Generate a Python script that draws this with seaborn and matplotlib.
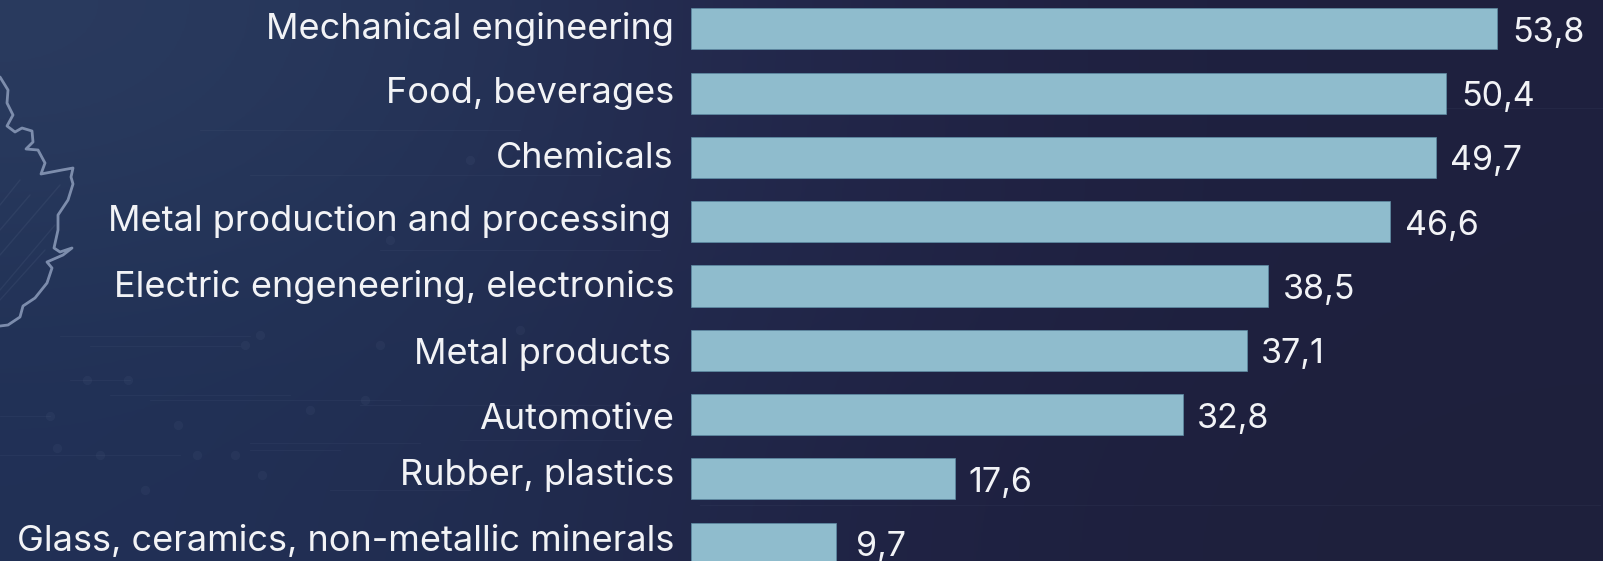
import numpy as np
import pandas as pd
import matplotlib
matplotlib.use("Agg")
import matplotlib.pyplot as plt
from matplotlib.lines import Line2D
import seaborn as sns

# --- data ---
sectors = [
    "Mechanical engineering",
    "Food, beverages",
    "Chemicals",
    "Metal production and processing",
    "Electric engeneering, electronics",
    "Metal products",
    "Automotive",
    "Rubber, plastics",
    "Glass, ceramics, non-metallic minerals",
]
shares = [53.8, 50.4, 49.7, 46.6, 38.5, 37.1, 32.8, 17.6, 9.7]

# --- layout, in reference pixels ---
W, H = 1603, 561
BAR_LEFT = 691
PX_PER_UNIT = 14.99
FIRST_CENTER = 28.8
PITCH = 64.3
label_drop = [10, 9.5, 10.5, 8.8, 11.5, 14, 14.2, 6.5, 7.5]
label_right = [674, 674, 674, 671, 674, 671, 674, 674, 674]
value_pad = [15, 15, 14, 15, 15, 14, 14, 14, 20]
VALUE_DROP = 13

BAR_COLOR = "#8fbccd"
TEXT_COLOR = "#f2f3f6"

df = pd.DataFrame({"sector": sectors, "share": shares})

sns.set_theme(style="white")
plt.rcParams["font.family"] = ["Inter", "DejaVu Sans"]

fig = plt.figure(figsize=(W / 100, H / 100), dpi=100)

# background wash, blue at upper left going to dark indigo on the right
bg = fig.add_axes([0, 0, 1, 1], zorder=0)
bg_colors = np.array([
    [[42, 59, 95], [37, 51, 87], [35, 38, 74], [31, 33, 64], [30, 32, 62]],
    [[35, 52, 88], [34, 48, 84], [34, 38, 74], [31, 33, 64], [30, 32, 62]],
    [[33, 48, 86], [33, 45, 80], [32, 36, 70], [30, 32, 62], [30, 32, 60]],
], dtype=float) / 255
bg.imshow(bg_colors, aspect="auto", interpolation="bicubic", extent=(0, W, H, 0))
bg.set_xlim(0, W)
bg.set_ylim(H, 0)
bg.axis("off")

# faint circuit traces behind everything
traces = [
    (60, 250, 336), (90, 240, 346), (0, 50, 416), (70, 130, 380), (110, 290, 395),
    (150, 400, 400), (250, 420, 443), (0, 180, 455), (250, 340, 450), (360, 640, 405),
    (330, 470, 490), (460, 640, 440), (700, 1600, 505), (1340, 1603, 108), (250, 600, 175),
    (200, 520, 130), (380, 660, 250),
]
for x0, x1, y in traces:
    bg.plot([x0, x1], [y, y], color="#9fb0cc", lw=0.8, alpha=0.05)
dot_x = [87, 128, 50, 57, 100, 197, 178, 245, 260, 235, 262, 310, 365, 380, 145, 390, 470, 520]
dot_y = [380, 380, 416, 448, 455, 455, 425, 345, 335, 455, 475, 410, 400, 345, 490, 240, 160, 330]
bg.scatter(dot_x, dot_y, s=45, color="#9fb0cc", alpha=0.05, linewidths=0)

# hatch inside the state outline
hatch_x = [(0, 60), (0, 55), (0, 45), (0, 30), (0, 20)]
hatch_y = [(255, 185), (290, 225), (300, 250), (230, 195), (205, 180)]
for xs, ys in zip(hatch_x, hatch_y):
    bg.plot(xs, ys, color="#9fb0cc", lw=1, alpha=0.08)

# state outline at the left edge
outline_x = [0, 8, 7, 13, 7, 15, 22, 32, 33, 26, 38, 45, 41, 62, 73, 71, 73, 68, 58, 58, 54, 60, 72, 63, 47, 52, 47, 35, 23, 20, 8, 0]
outline_y = [77, 90, 103, 115, 126, 132, 128, 131, 142, 149, 150, 163, 174, 170, 168, 177, 184, 200, 215, 230, 248, 252, 248, 255, 262, 268, 283, 298, 306, 317, 325, 326]
bg.add_line(Line2D(outline_x, outline_y, color="#8797b6", lw=2.0, alpha=0.9))

# chart
ax = fig.add_axes([BAR_LEFT / W, 0, 1 - BAR_LEFT / W, 1], zorder=1)
ax.patch.set_alpha(0)
sns.barplot(data=df, x="share", y="sector", orient="h", color=BAR_COLOR, saturation=1,
            width=0.64, edgecolor="#5f8ea6", linewidth=0.5, ax=ax)
ax.set_xlim(0, (W - BAR_LEFT) / PX_PER_UNIT)
ax.set_ylim((H - FIRST_CENTER) / PITCH, -FIRST_CENTER / PITCH)
ax.set_xlabel("")
ax.set_ylabel("")
ax.set_xticks([])
ax.set_yticks([])
sns.despine(ax=ax, left=True, bottom=True)

to_pt = 72 / 100
for i, name in enumerate(sectors):
    ax.annotate(name, xy=(0, i), xycoords=("data", "data"),
                xytext=((label_right[i] - BAR_LEFT) * to_pt, -label_drop[i] * to_pt),
                textcoords="offset points", ha="right", va="baseline",
                color=TEXT_COLOR, fontsize=26, annotation_clip=False)

for i, bar in enumerate(ax.containers[0]):
    ax.annotate(f"{shares[i]:.1f}".replace(".", ","), xy=(shares[i], i),
                xytext=(value_pad[i] * to_pt, -VALUE_DROP * to_pt), textcoords="offset points",
                ha="left", va="baseline", color=TEXT_COLOR, fontsize=24.5,
                annotation_clip=False)

plt.savefig("out.png", dpi=100)
